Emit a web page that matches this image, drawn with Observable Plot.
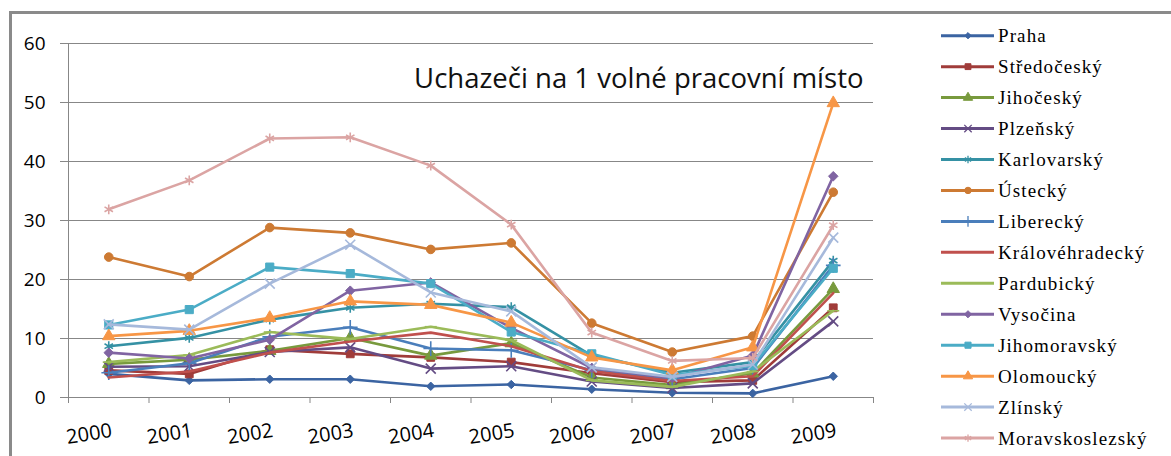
<!DOCTYPE html>
<html><head><meta charset="utf-8">
<script src="https://cdn.jsdelivr.net/npm/d3@7"></script>
<script src="https://cdn.jsdelivr.net/npm/@observablehq/plot@0.6"></script>
<style>
html,body{margin:0;padding:0;background:#fff;}
#wrap{position:relative;width:1171px;height:456px;overflow:hidden;background:#fff;}
#frame{position:absolute;left:9px;top:11px;width:1200px;height:500px;border-top:3px solid #8a8a8a;border-left:3px solid #8a8a8a;}
#chart{position:absolute;left:0;top:0;}
#legend{position:absolute;left:0;top:0;}
</style></head><body>
<div id="wrap"><div id="frame"></div><div id="chart"></div><svg id="legend" width="1171" height="456"></svg></div>
<script>
const title = "Uchazeči na 1 volné pracovní místo";
const years = [2000, 2001, 2002, 2003, 2004, 2005, 2006, 2007, 2008, 2009];
const yTicks = [0, 10, 20, 30, 40, 50, 60];
const regions = ["Praha", "Středočeský", "Jihočeský", "Plzeňský", "Karlovarský", "Ústecký", "Liberecký",
  "Královéhradecký", "Pardubický", "Vysočina", "Jihomoravský", "Olomoucký", "Zlínský", "Moravskoslezský"];
const colors = ["#3b64a2", "#a03c3a", "#789a3d", "#644c84", "#3591a4", "#cd7a33", "#4a7ebb",
  "#c0504d", "#9bbb59", "#8064a2", "#4bacc6", "#f79646", "#a6b9db", "#dba4a3"];

const praha           = [4.0, 2.9, 3.1, 3.1, 1.9, 2.2, 1.4, 0.8, 0.7, 3.6];
const stredocesky     = [4.6, 4.0, 8.1, 7.4, 6.8, 6.0, 4.1, 2.6, 2.9, 15.2];
const jihocesky       = [5.7, 6.4, 7.9, 10.1, 7.1, 9.2, 3.4, 2.1, 4.1, 18.4];
const plzensky        = [5.2, 5.3, 7.7, 8.5, 4.9, 5.3, 2.7, 1.6, 2.4, 12.9];
const karlovarsky     = [8.7, 10.1, 13.2, 15.2, 15.9, 15.3, 7.1, 4.2, 6.0, 23.2];
const ustecky         = [23.8, 20.5, 28.8, 27.9, 25.1, 26.2, 12.6, 7.7, 10.4, 34.8];
const liberecky       = [4.2, 5.8, 10.3, 11.9, 8.3, 8.0, 4.6, 3.1, 5.0, 22.4];
const kralovehradecky = [3.4, 4.4, 7.6, 9.5, 11.0, 8.7, 4.5, 2.8, 3.6, 17.7];
const pardubicky      = [6.0, 7.2, 11.1, 9.9, 12.0, 9.7, 2.9, 1.8, 4.4, 14.7];
const vysocina        = [7.6, 6.6, 9.8, 18.1, 19.5, 11.8, 5.0, 3.3, 7.1, 37.5];
const jihomoravsky    = [12.3, 14.9, 22.1, 21.0, 19.3, 11.1, 7.4, 3.8, 5.4, 21.9];
const olomoucky       = [10.4, 11.3, 13.5, 16.3, 15.7, 12.7, 6.8, 4.6, 8.5, 49.9];
const zlinsky         = [12.4, 11.5, 19.3, 25.9, 17.8, 14.6, 5.1, 3.5, 5.6, 27.1];
const moravskoslezsky = [31.9, 36.8, 43.9, 44.1, 39.3, 29.3, 11.0, 6.2, 6.7, 29.2];

const seriesValues = [praha, stredocesky, jihocesky, plzensky, karlovarsky, ustecky, liberecky,
  kralovehradecky, pardubicky, vysocina, jihomoravsky, olomoucky, zlinsky, moravskoslezsky];

// custom marker shapes (Excel-like)
const dash = {draw(ctx, size) { const w = Math.sqrt(size) * 0.75; ctx.moveTo(-w, 0); ctx.lineTo(w, 0); }};
const none = {draw(ctx, size) { ctx.moveTo(0, 0); ctx.closePath(); }};
const markers = [
  {s: d3.symbolDiamond2, r: 3.8, filled: true},
  {s: d3.symbolSquare, r: 4.4, filled: true},
  {s: d3.symbolTriangle, r: 4.6, filled: true},
  {s: d3.symbolTimes, r: 4.6, filled: false},
  {s: d3.symbolAsterisk, r: 4.6, filled: false},
  {s: d3.symbolCircle, r: 4.3, filled: true},
  {s: d3.symbolPlus, r: 4.8, filled: false},
  {s: none, r: 0.1, filled: false},
  {s: dash, r: 4.5, filled: false},
  {s: d3.symbolDiamond2, r: 4.3, filled: true},
  {s: d3.symbolSquare, r: 4.6, filled: true},
  {s: d3.symbolTriangle, r: 4.6, filled: true},
  {s: d3.symbolTimes, r: 4.6, filled: false},
  {s: d3.symbolAsterisk, r: 4.6, filled: false}
];

const table = [];
regions.forEach((reg, i) => seriesValues[i].forEach((v, j) => table.push({region: reg, year: years[j], value: v, idx: i})));

const bounds = d3.range(years[0] - 0.5, years[years.length - 1] + 1, 1);

const seriesMarks = [];
regions.forEach((reg, i) => {
  const d = table.filter(r => r.idx === i);
  seriesMarks.push(Plot.line(d, {x: "year", y: "value", stroke: colors[i], strokeWidth: 2.6, strokeLinejoin: "round", strokeLinecap: "round"}));
  const m = markers[i];
  seriesMarks.push(Plot.dot(d, {x: "year", y: "value", symbol: m.s, r: m.r,
    fill: m.filled ? colors[i] : "none", stroke: colors[i], strokeWidth: m.filled ? 1 : 1.6}));
});

const font = "'Open Sans', sans-serif";
const chart = Plot.plot({
  width: 900, height: 456,
  marginLeft: 68, marginRight: 27, marginTop: 43, marginBottom: 59,
  style: {background: "transparent", fontFamily: font},
  x: {type: "linear", domain: [years[0] - 0.5, years[years.length - 1] + 0.5], label: null},
  y: {domain: [0, 60], label: null},
  marks: [
    Plot.ruleY(yTicks, {stroke: "#878787", strokeWidth: 1}),
    Plot.axisY(yTicks, {tickSize: 8, tickPadding: 15, stroke: "#878787", fill: "#000", fontSize: 19, fontFamily: font, label: null}),
    Plot.axisX(bounds, {tickSize: 6, stroke: "#878787", tickFormat: () => "", label: null}),
    Plot.ruleX([bounds[0]], {stroke: "#878787"}),
    Plot.text(years, {x: d => d, frameAnchor: "bottom", dx: 3, dy: 33, rotate: -9, textAnchor: "end", lineAnchor: "middle",
      text: d => String(d), fontSize: 20, fontFamily: font, fill: "#000"}),
    Plot.text([title], {frameAnchor: "top-right", dx: -10, dy: 36, lineAnchor: "middle", fontSize: 27.5, fontFamily: font, fill: "#111"}),
    ...seriesMarks
  ]
});
document.getElementById("chart").appendChild(chart);

// legend
const lg = d3.select("#legend");
regions.forEach((reg, i) => {
  const y = 35.7 + i * 30.95;
  const g = lg.append("g");
  g.append("line").attr("x1", 941).attr("x2", 994).attr("y1", y).attr("y2", y)
    .attr("stroke", colors[i]).attr("stroke-width", 3);
  const m = markers[i];
  const size = Math.PI * Math.pow(m.r * 0.75, 2);
  g.append("path").attr("transform", `translate(968,${y})`)
    .attr("d", d3.symbol(m.s, size)())
    .attr("fill", m.filled ? colors[i] : "none").attr("stroke", colors[i]).attr("stroke-width", m.filled ? 1 : 1.3);
  g.append("text").attr("x", 998).attr("y", y + 6.5).text(reg)
    .attr("font-family", "'Liberation Serif', 'Times New Roman', serif").attr("font-weight", "normal")
    .attr("font-size", 19).attr("letter-spacing", 1.1).attr("fill", "#000");
});
</script>
</body></html>
